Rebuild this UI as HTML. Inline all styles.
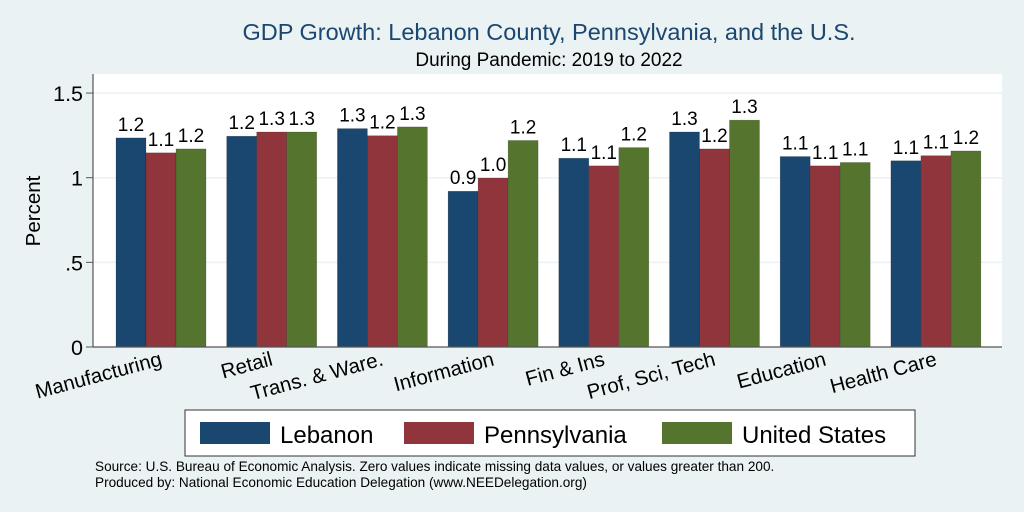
<!DOCTYPE html>
<html><head><meta charset="utf-8"><style>
body{margin:0;background:#eaf2f3;}
svg{display:block;font-family:"Liberation Sans",Arial,sans-serif;}
</style></head><body>
<svg id="c" width="1024" height="512" viewBox="0 0 1024 512">
<rect x="0" y="0" width="1024" height="512" fill="#eaf2f3"/>
<rect x="93" y="74" width="909" height="273" fill="#fff"/>
<text x="549" y="40" text-anchor="middle" font-size="23.5" fill="#1a476f">GDP Growth: Lebanon County, Pennsylvania, and the U.S.</text>
<text x="549" y="66" text-anchor="middle" font-size="19" fill="#000">During Pandemic: 2019 to 2022</text>
<text transform="translate(40,211) rotate(-90)" text-anchor="middle" font-size="20.5">Percent</text>
<g id="grid"></g><g id="bars"></g><g id="xl"></g>
<line x1="93" y1="74" x2="93" y2="347" stroke="#555" stroke-width="1.2"/>
<line x1="93" y1="347" x2="1002" y2="347" stroke="#555" stroke-width="1.2"/>
<g>
<rect x="185" y="410" width="730" height="46" fill="#fff" stroke="#333"/>
<rect x="200" y="422" width="70" height="22" fill="#1a476f"/>
<text x="280" y="443" font-size="24">Lebanon</text>
<rect x="404" y="422" width="70" height="22" fill="#90353b"/>
<text x="484" y="443" font-size="24">Pennsylvania</text>
<rect x="662" y="422" width="70" height="22" fill="#55752f"/>
<text x="742" y="443" font-size="24">United States</text>
</g>
<text x="95" y="471" font-size="13.6">Source: U.S. Bureau of Economic Analysis. Zero values indicate missing data values, or values greater than 200.</text>
<text x="95" y="487" font-size="13.6">Produced by: National Economic Education Delegation (www.NEEDelegation.org)</text>
</svg>
<script>
const categories=["Manufacturing","Retail","Trans. & Ware.","Information","Fin & Ins","Prof, Sci, Tech","Education","Health Care"];
const lebanon=[1.235,1.245,1.29,0.92,1.115,1.27,1.125,1.10];
const pennsylvania=[1.147,1.27,1.248,0.998,1.07,1.17,1.07,1.13];
const unitedStates=[1.17,1.27,1.30,1.22,1.178,1.34,1.09,1.158];
const yTicks=[0,0.5,1,1.5];
const yTickLabels=["0",".5","1","1.5"];
const NS="http://www.w3.org/2000/svg";
function y(v){return 347-v*169.3;}
function gx(i){return 116+i*110.7;}
function mk(t,a,p){const e=document.createElementNS(NS,t);for(const k in a)e.setAttribute(k,a[k]);p.appendChild(e);return e;}
const grid=document.getElementById('grid'),bars=document.getElementById('bars'),xl=document.getElementById('xl');
yTicks.forEach((t,i)=>{
  if(t>0){const g=mk('line',{x1:93,x2:1002,y1:y(t),y2:y(t),stroke:'#eaf2f3','stroke-width':1.5},grid);
  
  }
  const tk=mk('line',{x1:86,x2:93,y1:y(t),y2:y(t),stroke:'#555'},grid);
  
  
  const l=mk('text',{x:83,y:y(t)+8,'text-anchor':'end','font-size':21.5},grid);l.textContent=yTickLabels[i];
  
  
});
const series=[[lebanon,'#1a476f','lebanon'],[pennsylvania,'#90353b','pennsylvania'],[unitedStates,'#55752f','united-states']];
categories.forEach((c,i)=>{
  series.forEach((s,j)=>{
    const v=s[0][i],x=gx(i)+j*30;
    const r=mk('rect',{x:x,y:y(v),width:30,height:347-y(v),fill:s[1],stroke:'rgba(0,0,0,0.25)','stroke-width':0.6},bars);
    
    
    const t=mk('text',{x:x+15,y:y(v)-7,'text-anchor':'middle','font-size':19},bars);t.textContent=v.toFixed(1);
    
    
  });
  const cx=gx(i)+47;
  const t=mk('text',{transform:'translate('+cx+',365) rotate(-15)','text-anchor':'end','font-size':20.5},xl);t.textContent=c;
  
  
});
</script>
</body></html>
